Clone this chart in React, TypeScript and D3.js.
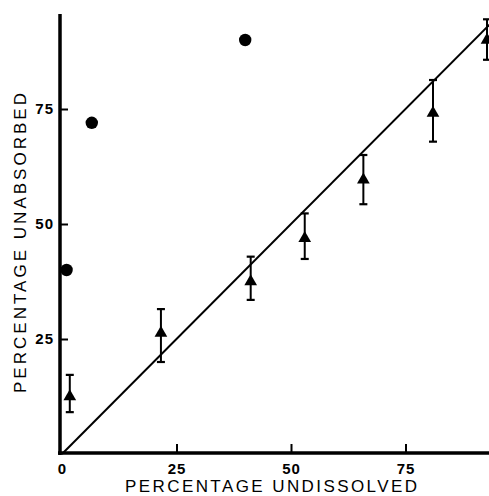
import React, { useEffect, useRef } from 'react';
import * as d3 from 'd3';

const xTicks = [0, 25, 50, 75];
const yTicks = [25, 50, 75];

const circleX = [1, 6.5, 40];
const circleY = [40, 72, 90];

const triX = [1.7, 21.6, 41.2, 53, 65.8, 81, 92.8];
const triY = [12.5, 26.3, 37.5, 46.9, 59.6, 74.1, 90];
const triHi = [17.2, 31.5, 42.9, 52.3, 65, 81.3, 94.5];
const triLo = [9.1, 20, 33.5, 42.4, 54.3, 67.9, 85.7];

const lineX = [0, 96];

const xTitle = 'PERCENTAGE UNDISSOLVED';
const yTitle = 'PERCENTAGE UNABSORBED';

const W = 489;
const H = 496;
const FONT = '"Liberation Sans", Arial, Helvetica, sans-serif';

export default function App() {
    const ref = useRef<SVGSVGElement>(null);

    useEffect(() => {
        const svg = d3.select(ref.current);
        svg.selectAll('*').remove();

        const x = d3.scaleLinear().domain([0, 75]).range([62, 405.5]);
        const y = d3.scaleLinear().domain([0, 75]).range([454, 109]);

        // axes lines
        svg.append('line')
            .attr('x1', x(0) - 4).attr('x2', W)
            .attr('y1', y(0) - 1).attr('y2', y(0) - 1)
            .attr('stroke', '#000').attr('stroke-width', 3.5);
        svg.append('line')
            .attr('x1', x(0) - 2).attr('x2', x(0) - 2)
            .attr('y1', 14).attr('y2', y(0) + 1)
            .attr('stroke', '#000').attr('stroke-width', 3.5);

        // x axis ticks + labels
        const gx = svg.append('g')
            .attr('transform', `translate(0,${y(0) - 1})`)
            .call(d3.axisBottom(x).tickValues(xTicks).tickSizeInner(-9).tickSizeOuter(0).tickPadding(10));
        gx.select('.domain').remove();
        gx.selectAll('.tick line').attr('stroke', '#000').attr('stroke-width', 2)
            .filter((d: any) => d === 0).remove();
        gx.selectAll('text')
            .attr('font-family', FONT).attr('font-size', 15).attr('font-weight', 'bold')
            .attr('letter-spacing', 1).attr('fill', '#000');

        // y axis ticks + labels
        const gy = svg.append('g')
            .attr('transform', `translate(${x(0) - 2},0)`)
            .call(d3.axisLeft(y).tickValues(yTicks).tickSizeInner(-8).tickSizeOuter(0).tickPadding(6));
        gy.select('.domain').remove();
        gy.selectAll('.tick line').attr('stroke', '#000').attr('stroke-width', 2);
        gy.selectAll('text')
            .attr('font-family', FONT).attr('font-size', 15).attr('font-weight', 'bold')
            .attr('letter-spacing', 1).attr('fill', '#000');

        // identity line
        const line = d3.line<number>().x(d => x(d)).y(d => y(d));
        svg.append('path')
            .attr('d', line(lineX))
            .attr('fill', 'none').attr('stroke', '#000').attr('stroke-width', 2);

        // circles
        svg.selectAll('circle.pt')
            .data(circleX)
            .enter()
            .append('circle')
            .attr('cx', d => x(d))
            .attr('cy', (d, i) => y(circleY[i]))
            .attr('r', 6.2)
            .attr('fill', '#000');

        // error bars
        const eb = svg.selectAll('g.eb')
            .data(triX)
            .enter()
            .append('g');
        eb.append('line')
            .attr('x1', d => x(d)).attr('x2', d => x(d))
            .attr('y1', (d, i) => y(triHi[i])).attr('y2', (d, i) => y(triLo[i]))
            .attr('stroke', '#000').attr('stroke-width', 2);
        eb.append('line')
            .attr('x1', d => x(d) - 4).attr('x2', d => x(d) + 4)
            .attr('y1', (d, i) => y(triHi[i])).attr('y2', (d, i) => y(triHi[i]))
            .attr('stroke', '#000').attr('stroke-width', 2.2);
        eb.append('line')
            .attr('x1', d => x(d) - 4).attr('x2', d => x(d) + 4)
            .attr('y1', (d, i) => y(triLo[i])).attr('y2', (d, i) => y(triLo[i]))
            .attr('stroke', '#000').attr('stroke-width', 2.2);

        // triangles
        const tri = d3.symbol().type(d3.symbolTriangle).size(70);
        svg.selectAll('path.tri')
            .data(triX)
            .enter()
            .append('path')
            .attr('d', tri)
            .attr('transform', (d, i) => `translate(${x(d)},${y(triY[i])})`)
            .attr('fill', '#000');

        // titles
        svg.append('text')
            .attr('x', 271).attr('y', 491.5)
            .attr('text-anchor', 'middle')
            .attr('font-family', FONT).attr('font-size', 17)
            .attr('textLength', 292).attr('lengthAdjust', 'spacing')
            .text(xTitle);
        svg.append('text')
            .attr('transform', 'translate(26,243) rotate(-90)')
            .attr('text-anchor', 'middle')
            .attr('font-family', FONT).attr('font-size', 17)
            .attr('textLength', 300).attr('lengthAdjust', 'spacing')
            .text(yTitle);
    }, []);

    return (
        <svg
            ref={ref}
            width={W}
            height={H}
            style={{ position: 'absolute', left: 0, top: 0, background: '#fff' }}
        />
    );
}
